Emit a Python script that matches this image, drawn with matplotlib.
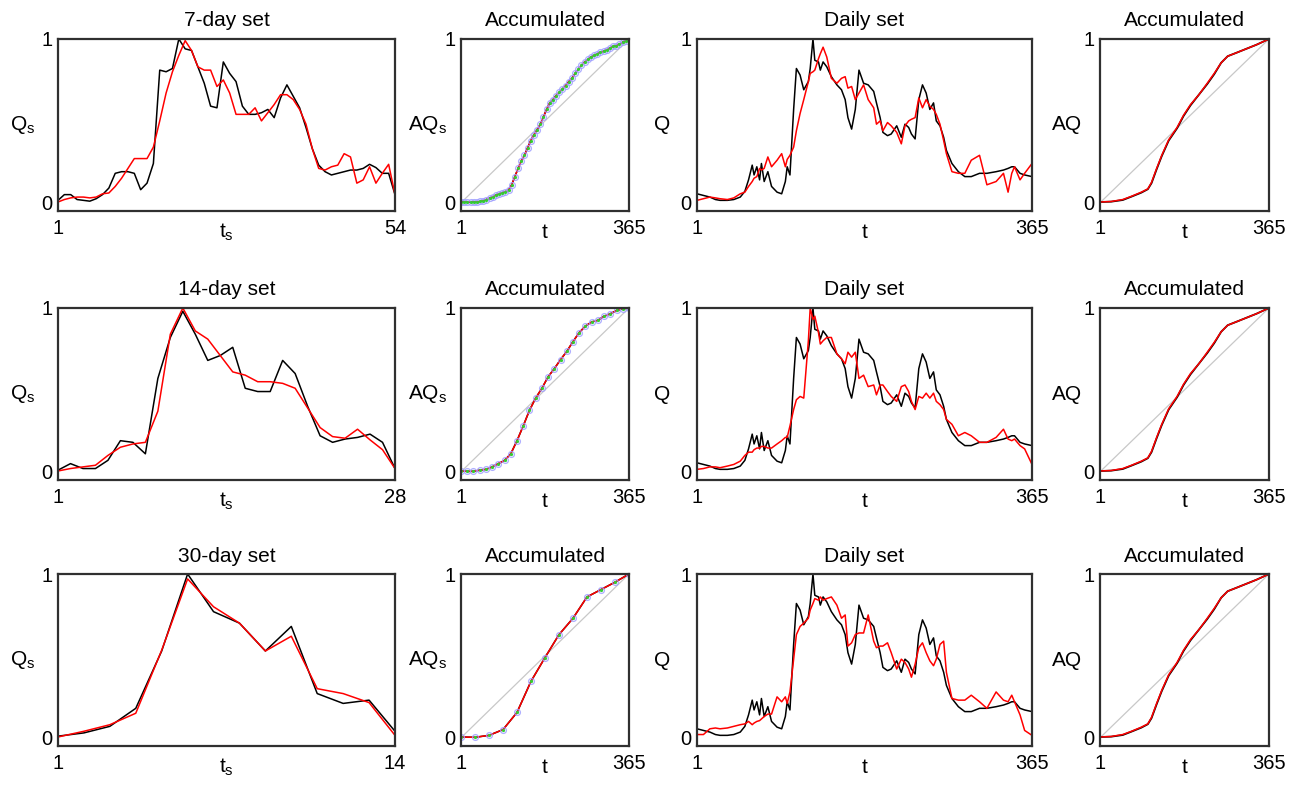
import numpy as np
import matplotlib
matplotlib.use("Agg")
import matplotlib.pyplot as plt

plt.rcParams['font.family'] = ['Liberation Sans', 'DejaVu Sans']
plt.rcParams['mathtext.fontset'] = 'custom'
plt.rcParams['mathtext.rm'] = 'Liberation Sans'
plt.rcParams['mathtext.it'] = 'Liberation Sans'
plt.rcParams['mathtext.default'] = 'rm'

# ---------------- data ----------------
set_titles = ["7-day set", "14-day set", "30-day set"]

set7_obs = [0.015, 0.05, 0.05, 0.02, 0.015, 0.01, 0.025, 0.05, 0.09, 0.18,
            0.19, 0.19, 0.18, 0.08, 0.12, 0.24, 0.81, 0.80, 0.82, 1.0,
            0.94, 0.93, 0.83, 0.73, 0.59, 0.58, 0.86, 0.79, 0.74, 0.59,
            0.54, 0.54, 0.55, 0.57, 0.52, 0.64, 0.72, 0.65, 0.58, 0.46,
            0.33, 0.23, 0.19, 0.17, 0.18, 0.19, 0.20, 0.20, 0.21, 0.235,
            0.215, 0.18, 0.18, 0.05]
set7_sim = [0.005, 0.02, 0.03, 0.035, 0.035, 0.03, 0.035, 0.055, 0.06, 0.10,
            0.15, 0.21, 0.27, 0.27, 0.27, 0.34, 0.50, 0.67, 0.80, 0.90,
            0.99, 0.93, 0.83, 0.81, 0.81, 0.71, 0.75, 0.67, 0.54, 0.54,
            0.54, 0.58, 0.50, 0.55, 0.60, 0.66, 0.66, 0.63, 0.57, 0.48,
            0.33, 0.21, 0.20, 0.22, 0.23, 0.30, 0.28, 0.12, 0.14, 0.22,
            0.12, 0.18, 0.235, 0.05]

set14_obs = [0.01, 0.05, 0.02, 0.02, 0.07, 0.19, 0.18, 0.11, 0.57, 0.82,
             0.98, 0.84, 0.68, 0.71, 0.76, 0.51, 0.49, 0.49, 0.68, 0.60,
             0.40, 0.22, 0.18, 0.20, 0.21, 0.23, 0.18, 0.02]
set14_sim = [0.005, 0.02, 0.03, 0.04, 0.10, 0.15, 0.17, 0.18, 0.37, 0.84,
             1.0, 0.86, 0.81, 0.71, 0.61, 0.59, 0.55, 0.55, 0.54, 0.51,
             0.39, 0.27, 0.215, 0.205, 0.26, 0.195, 0.135, 0.02]

set30_obs = [0.01, 0.03, 0.07, 0.18, 0.53, 1.0, 0.77, 0.70, 0.53, 0.68,
             0.27, 0.21, 0.23, 0.04]
set30_sim = [0.005, 0.04, 0.08, 0.15, 0.535, 0.97, 0.80, 0.70, 0.53, 0.62,
             0.30, 0.27, 0.215, 0.015]

# accumulated values of the sets (at the set sample points)
acc7 = [0.005, 0.005, 0.005, 0.005, 0.005, 0.006, 0.008, 0.012, 0.02, 0.028,
        0.037, 0.048, 0.055, 0.062, 0.068, 0.078, 0.11, 0.16, 0.21, 0.255,
        0.29, 0.335, 0.38, 0.415, 0.445, 0.48, 0.525, 0.57, 0.61, 0.63,
        0.655, 0.675, 0.695, 0.715, 0.74, 0.76, 0.79, 0.815, 0.84, 0.86,
        0.875, 0.89, 0.90, 0.91, 0.92, 0.925, 0.935, 0.945, 0.955, 0.96,
        0.97, 0.98, 0.99, 1.0]
acc14 = [0.005, 0.003, 0.003, 0.01, 0.015, 0.03, 0.05, 0.07, 0.11, 0.19,
         0.28, 0.375, 0.45, 0.51, 0.58, 0.63, 0.685, 0.735, 0.795, 0.85,
         0.89, 0.915, 0.925, 0.95, 0.965, 0.985, 0.995, 1.0]
acc30 = [0.005, 0.003, 0.015, 0.05, 0.155, 0.345, 0.49, 0.63, 0.73, 0.86,
         0.905, 0.95, 1.0]

# daily series (observed black shared by all rows, simulated red per row)
daily_days = [1, 8, 15, 21, 26, 34, 41, 48, 53, 57,
              61, 63, 66, 69, 71, 74, 78, 82, 88, 93,
              97, 99, 102, 106, 109, 113, 117, 122, 124, 127,
              129, 133, 135, 138, 142, 147, 153, 158, 162, 165,
              169, 173, 177, 182, 187, 193, 196, 200, 203, 208,
              212, 218, 223, 227, 231, 234, 238, 242, 246, 250,
              254, 258, 261, 265, 269, 272, 278, 285, 292, 299,
              308, 316, 326, 334, 339, 343, 346, 352, 357, 365]
daily_obs = [0.055, 0.045, 0.035, 0.02, 0.015, 0.015, 0.02, 0.035, 0.07, 0.14,
             0.23, 0.17, 0.22, 0.14, 0.24, 0.13, 0.19, 0.10, 0.065, 0.055,
             0.13, 0.22, 0.17, 0.57, 0.82, 0.78, 0.69, 0.74, 0.82, 1.0,
             0.87, 0.86, 0.81, 0.86, 0.83, 0.77, 0.72, 0.69, 0.63, 0.52,
             0.45, 0.57, 0.81, 0.73, 0.72, 0.68, 0.61, 0.52, 0.43, 0.41,
             0.42, 0.47, 0.40, 0.48, 0.46, 0.42, 0.39, 0.63, 0.72, 0.67,
             0.57, 0.61, 0.50, 0.47, 0.40, 0.32, 0.24, 0.19, 0.16, 0.16,
             0.18, 0.18, 0.19, 0.20, 0.21, 0.22, 0.22, 0.18, 0.17, 0.16]
daily_sim7 = [0.015, 0.025, 0.035, 0.03, 0.025, 0.02, 0.03, 0.055, 0.065, 0.10,
              0.13, 0.15, 0.16, 0.21, 0.20, 0.21, 0.28, 0.22, 0.26, 0.30,
              0.22, 0.265, 0.29, 0.34, 0.44, 0.545, 0.63, 0.74, 0.79, 0.80,
              0.81, 0.88, 0.91, 0.95, 0.89, 0.76, 0.73, 0.76, 0.77, 0.70,
              0.71, 0.63, 0.67, 0.72, 0.63, 0.58, 0.48, 0.50, 0.44, 0.49,
              0.47, 0.43, 0.36, 0.47, 0.50, 0.51, 0.52, 0.64, 0.58, 0.63,
              0.59, 0.57, 0.54, 0.48, 0.38, 0.30, 0.19, 0.18, 0.18, 0.26,
              0.29, 0.11, 0.13, 0.18, 0.065, 0.18, 0.22, 0.14, 0.18, 0.24]
daily_sim14 = [0.015, 0.02, 0.03, 0.03, 0.025, 0.035, 0.045, 0.065, 0.10, 0.12,
               0.12, 0.135, 0.145, 0.145, 0.155, 0.155, 0.145, 0.145, 0.17, 0.19,
               0.21, 0.21, 0.28, 0.38, 0.44, 0.46, 0.45, 0.80, 1.0, 0.93,
               0.95, 0.85, 0.78, 0.80, 0.82, 0.82, 0.72, 0.69, 0.66, 0.73,
               0.70, 0.73, 0.57, 0.59, 0.52, 0.53, 0.47, 0.53, 0.53, 0.49,
               0.46, 0.43, 0.52, 0.53, 0.49, 0.43, 0.38, 0.46, 0.45, 0.48,
               0.45, 0.48, 0.43, 0.41, 0.38, 0.32, 0.29, 0.22, 0.24, 0.22,
               0.18, 0.18, 0.21, 0.26, 0.20, 0.19, 0.20, 0.16, 0.14, 0.045]
daily_sim30 = [0.02, 0.02, 0.055, 0.06, 0.055, 0.06, 0.07, 0.08, 0.085, 0.10,
               0.08, 0.09, 0.10, 0.105, 0.115, 0.13, 0.145, 0.145, 0.25, 0.22,
               0.25, 0.21, 0.28, 0.48, 0.63, 0.68, 0.70, 0.73, 0.78, 0.82,
               0.85, 0.84, 0.86, 0.84, 0.85, 0.86, 0.81, 0.73, 0.75, 0.56,
               0.58, 0.63, 0.64, 0.64, 0.75, 0.59, 0.55, 0.56, 0.56, 0.58,
               0.52, 0.42, 0.48, 0.46, 0.42, 0.37, 0.45, 0.55, 0.58, 0.52,
               0.47, 0.44, 0.48, 0.57, 0.59, 0.40, 0.24, 0.23, 0.23, 0.26,
               0.22, 0.18, 0.28, 0.23, 0.22, 0.26, 0.22, 0.14, 0.045, 0.015]

# accumulated daily
acc_days = [1, 25, 50, 69, 90, 104, 112, 123, 134, 149, 167,
            181, 196, 214, 232, 247, 262, 276, 294, 316, 338, 365]
acc_daily_obs = [0.005, 0.007, 0.017, 0.038, 0.062, 0.083, 0.12, 0.205, 0.285, 0.38, 0.455,
                 0.53, 0.595, 0.66, 0.725, 0.785, 0.855, 0.895, 0.915, 0.94, 0.965, 1.0]
acc_daily_sim = [0.005, 0.008, 0.02, 0.04, 0.065, 0.085, 0.125, 0.21, 0.29, 0.385, 0.46,
                 0.535, 0.60, 0.66, 0.73, 0.79, 0.855, 0.895, 0.915, 0.94, 0.965, 1.0]

diag_t = [1, 365]
diag_v = [0, 1]

sets_obs = [set7_obs, set14_obs, set30_obs]
sets_sim = [set7_sim, set14_sim, set30_sim]
accs = [acc7, acc14, acc30]
daily_sims = [daily_sim7, daily_sim14, daily_sim30]

# ---------------- layout ----------------
W, H = 1291, 785
fig = plt.figure(figsize=(W / 100, H / 100), dpi=100)
col_l = [58, 461, 697, 1100]
col_r = [395, 629, 1032, 1269]
row_t = [39, 308, 574]
row_b = [211, 480, 746]

FS_TITLE = 15
FS_TICK = 14.5
FS_LAB = 15
FRAME = '#303030'


def make_ax(r, c):
    return fig.add_axes([col_l[c] / W, 1 - row_b[r] / H,
                         (col_r[c] - col_l[c]) / W, (row_b[r] - row_t[r]) / H])


def style(ax, xmax, title, xlab, ylab, ylab_x):
    ax.set_xlim(1, xmax)
    ax.set_ylim(-0.05, 1)
    ax.set_xticks([1, xmax])
    ax.set_xticklabels(['1', str(xmax)])
    ax.set_yticks([0, 1])
    ax.set_yticklabels(['0', '1'])
    ax.tick_params(length=0, labelsize=FS_TICK)
    ax.tick_params(axis='y', pad=4)
    ax.tick_params(axis='x', pad=6)
    for s in ax.spines.values():
        s.set_linewidth(1.6)
        s.set_color(FRAME)
    ax.set_title(title, fontsize=FS_TITLE, pad=9)
    ax.set_xlabel(xlab, fontsize=FS_LAB)
    ax.xaxis.set_label_coords(0.5, -0.155)
    ax.xaxis.label.set_verticalalignment('baseline')
    ax.set_ylabel(ylab, fontsize=FS_LAB, rotation=0, ha='right', va='center')
    ax.yaxis.set_label_coords(ylab_x, 0.5)


for r in range(3):
    n = len(sets_obs[r])
    ts = np.arange(1, n + 1)

    # column 1: set series
    ax = make_ax(r, 0)
    ax.plot(ts, sets_obs[r], color='black', lw=1.1)
    ax.plot(ts, sets_sim[r], color='red', lw=1.1)
    style(ax, n, set_titles[r], '$t_s$', '$Q_s$', -0.068)

    # column 2: accumulated set
    ax = make_ax(r, 1)
    ax.plot(diag_t, diag_v, color='#c8c8c8', lw=0.9)
    acc = accs[r]
    ta = np.linspace(1, 365, len(acc))
    ax.plot(ta, acc, color='black', lw=1.1)
    ax.plot(ta, acc, color='red', lw=1.1)
    ax.plot(ta, acc, ls='none', marker='o', ms=4.2, mfc='none',
            mec='#a0a0ff', mew=0.9, alpha=0.85)
    ax.plot(ta, acc, ls='none', marker='.', ms=2.6, color='#33cc33')
    style(ax, 365, 'Accumulated', 't', '$AQ_s$', -0.083)

    # column 3: daily set
    ax = make_ax(r, 2)
    ax.plot(daily_days, daily_obs, color='black', lw=1.1)
    ax.plot(daily_days, daily_sims[r], color='red', lw=1.1)
    style(ax, 365, 'Daily set', 't', 'Q', -0.081)

    # column 4: accumulated daily
    ax = make_ax(r, 3)
    ax.plot(diag_t, diag_v, color='#c8c8c8', lw=0.9)
    ax.plot(acc_days, acc_daily_obs, color='black', lw=1.3)
    ax.plot(acc_days, acc_daily_sim, color='red', lw=1.1)
    style(ax, 365, 'Accumulated', 't', 'AQ', -0.107)

fig.savefig('out.png', dpi=100)
